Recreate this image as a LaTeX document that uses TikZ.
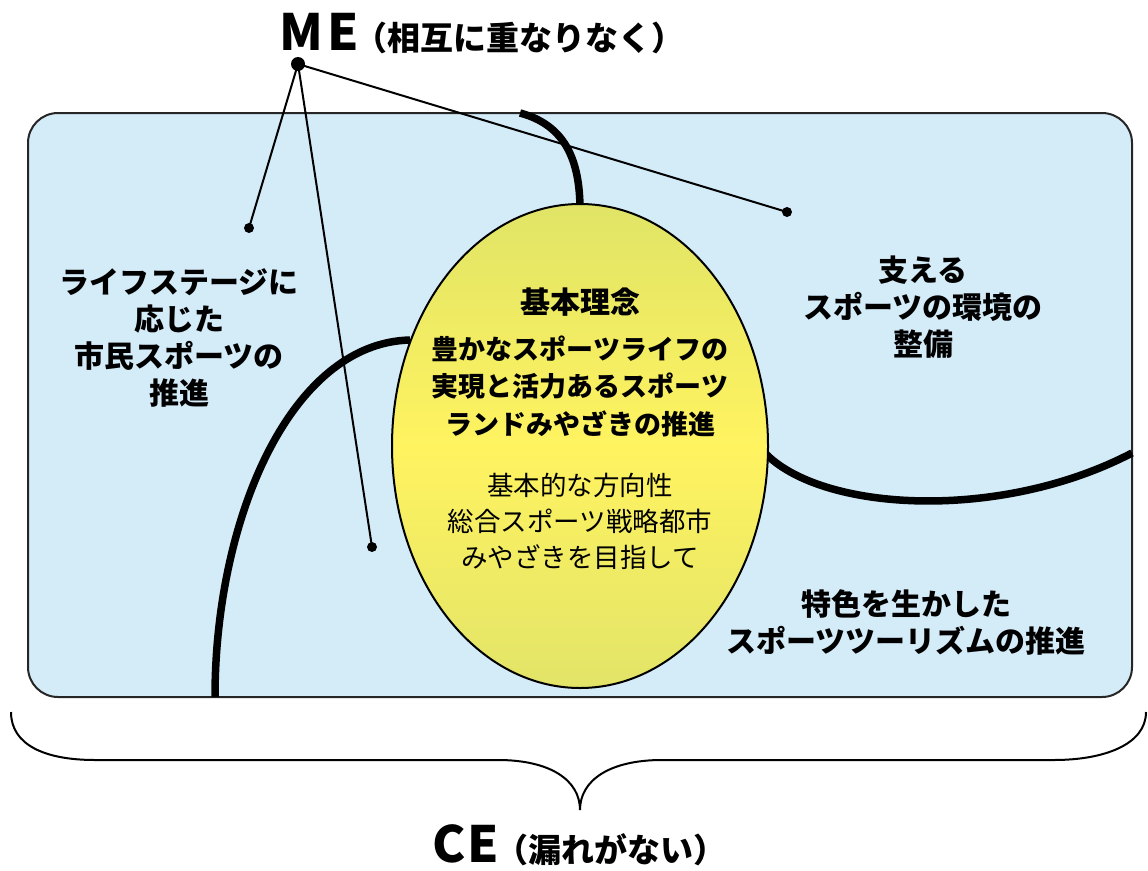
\documentclass[tikz,border=0pt]{standalone}
\usepackage{fontspec}
\setmainfont{Noto Sans CJK JP}
\usetikzlibrary{shapes.geometric}
\definecolor{panelblue}{RGB}{212,235,248}
\definecolor{ytop}{RGB}{224,228,102}
\definecolor{ymid}{RGB}{255,243,96}
\definecolor{ybot}{RGB}{226,228,104}
\tikzset{
  panelbox/.style={draw=black!85, line width=2pt, fill=panelblue, rounded corners=30pt},
  divider/.style={line width=7.5pt, line cap=butt},
  pointer/.style={line width=2pt},
  bigdot/.style={circle, fill=black, inner sep=0pt, minimum size=14pt},
  smalldot/.style={circle, fill=black, inner sep=0pt, minimum size=10pt},
  label/.style={align=center, inner sep=0pt, font=\fontsize{30}{37}\selectfont\bfseries},
  coretext/.style={align=center, inner sep=0pt, font=\fontsize{27}{37.5}\selectfont},
  bracepath/.style={line width=2pt},
}
\begin{document}
\begin{tikzpicture}[x=1pt,y=-1pt]
\useasboundingbox (0,0) rectangle (1148,870);
% panel
\node[panelbox, minimum width=1104pt, minimum height=584pt] (panel) at (580,405) {};
% dividing curves
\coordinate (topstart) at (520,113);
\coordinate (leftstart) at (215,697);
\coordinate (leftend) at (410,340);
\coordinate (rightend) at (1132,453);
\coordinate (rightstart) at (764,452);
\draw[divider] (topstart) .. controls (565,125) and (580,160) .. (580,210);
\draw[divider] (leftstart) .. controls (215,520) and (290,343) .. (leftend);
\draw[divider] (rightstart) .. controls (820,512) and (1000,522) .. (rightend);
% core ellipse
\node[ellipse, draw=black, line width=2pt, minimum width=376pt, minimum height=484pt,
      top color=ytop, bottom color=ybot, middle color=ymid] (core) at (580,446) {};
\node[inner sep=0pt, font=\fontsize{30}{30}\selectfont\bfseries] (title) at (580,302) {基本理念};
\node[coretext, font=\fontsize{27}{37.5}\selectfont\bfseries] (ideal) at (580,386)
  {豊かなスポーツライフの\\実現と活力あるスポーツ\\ランドみやざきの推進};
\node[coretext, font=\fontsize{26.5}{36}\selectfont] (policy) at (580,521)
  {基本的な方向性\\総合スポーツ戦略都市\\みやざきを目指して};
% region labels
\node[label] (lifestage) at (179,338) {ライフステージに\\応じた\\市民スポーツの\\推進};
\node[label] (support) at (923,307) {支える\\スポーツの環境の\\整備};
\node[label] (tourism) at (906,622) {特色を生かした\\スポーツツーリズムの推進};
% ME pointers
\node[bigdot] (me) at (298,64) {};
\node[smalldot] (d1) at (249,228) {};
\node[smalldot] (d2) at (372,547) {};
\node[smalldot] (d3) at (787,212) {};
\draw[pointer] (me.center) -- (d1.center);
\draw[pointer] (me.center) -- (d2.center);
\draw[pointer] (me.center) -- (d3.center);
\node[anchor=base west, inner sep=0pt] (metext) at (279,50)
  {\fontsize{50}{50}\selectfont\bfseries M\kern4pt E\kern-4pt\fontsize{33}{33}\selectfont （相互に重なりなく）};
% brace
\coordinate (bl) at (11,712);
\coordinate (br) at (1146,712);
\coordinate (tip) at (580,810);
\draw[bracepath] (bl) .. controls (11,745) and (45,760) .. (95,760) -- (498,760)
  .. controls (550,760) and (580,780) .. (tip)
  .. controls (580,780) and (610,760) .. (662,760) -- (1054,760)
  .. controls (1103,760) and (1146,745) .. (br);
\node[anchor=base west, inner sep=0pt] (cetext) at (432,862)
  {\fontsize{50}{50}\selectfont\bfseries C\kern2pt E\kern-4pt\fontsize{33}{33}\selectfont （漏れがない）};
\end{tikzpicture}
\end{document}
